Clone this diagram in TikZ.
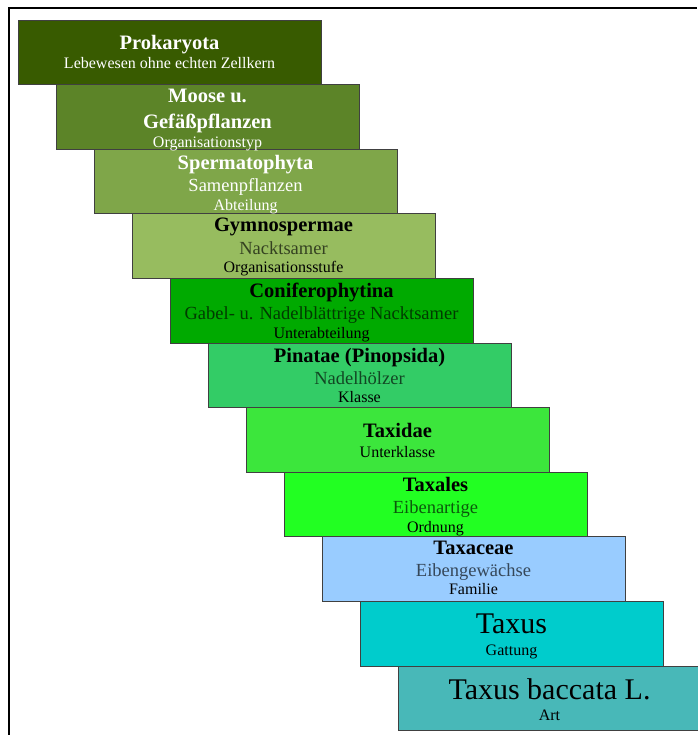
\documentclass[tikz,border=0pt]{standalone}
\usepackage{fontspec}
\setmainfont{Liberation Serif}
\usepackage{tikz}

\definecolor{stufeA}{HTML}{385B00}
\definecolor{stufeB}{HTML}{5C8428}
\definecolor{stufeC}{HTML}{7FA649}
\definecolor{stufeD}{HTML}{97BC5F}
\definecolor{stufeE}{HTML}{00AA00}
\definecolor{stufeF}{HTML}{33CC66}
\definecolor{stufeG}{HTML}{3CE63C}
\definecolor{stufeH}{HTML}{22FF22}
\definecolor{stufeI}{HTML}{99CCFF}
\definecolor{stufeJ}{HTML}{00CCCC}
\definecolor{stufeK}{HTML}{48B8B8}

\tikzset{
  stufe/.style={draw=black!75, line width=0.9pt, minimum width=303pt,
    minimum height=64.6pt, inner sep=0pt, outer sep=0pt, anchor=north west},
  titel/.style={font=\bfseries\fontsize{20.5}{24}\selectfont, anchor=base},
  deutsch/.style={font=\fontsize{18.5}{22}\selectfont, anchor=base, text opacity=.65},
  rang/.style={font=\fontsize{16}{19}\selectfont, anchor=base},
  gross/.style={font=\fontsize{30}{36}\selectfont, anchor=base},
  hell/.style={text=white, text opacity=1}
}

\begin{document}
\begin{tikzpicture}[x=1pt,y=-1pt]
\useasboundingbox (0,0) rectangle (697,735);
\fill[white] (0,0) rectangle (697,735);
% Rahmen
\draw[line width=2.5pt] (9,735) -- (9,8) -- (697,8);

% Treppe der Stufen
\node[stufe, fill=stufeA] (prokaryota) at (18,20) {};
\node[stufe, fill=stufeB] (moose) at ([xshift=38pt]prokaryota.south west) {};
\node[stufe, fill=stufeC] (spermato) at ([xshift=38pt]moose.south west) {};
\node[stufe, fill=stufeD] (gymno) at ([xshift=38pt]spermato.south west) {};
\node[stufe, fill=stufeE] (conifero) at ([xshift=38pt]gymno.south west) {};
\node[stufe, fill=stufeF] (pinatae) at ([xshift=38pt]conifero.south west) {};
\node[stufe, fill=stufeG] (taxidae) at ([xshift=38pt]pinatae.south west) {};
\node[stufe, fill=stufeH] (taxales) at ([xshift=38pt]taxidae.south west) {};
\node[stufe, fill=stufeI] (taxaceae) at ([xshift=38pt]taxales.south west) {};
\node[stufe, fill=stufeJ] (taxus) at ([xshift=38pt]taxaceae.south west) {};
\node[stufe, fill=stufeK] (baccata) at ([xshift=38pt]taxus.south west) {};

% Beschriftungen
\node[titel, hell] (prokaryota-t) at ([yshift=-30pt]prokaryota.north) {Prokaryota};
\node[rang, hell] (prokaryota-d) at ([yshift=-49pt]prokaryota.north) {Lebewesen ohne echten Zellkern};

\node[titel, hell] (moose-t) at ([yshift=-18pt]moose.north) {Moose u.};
\node[titel, hell] (moose-t2) at ([yshift=-44pt]moose.north) {Gefäßpflanzen};
\node[rang, hell] (moose-r) at ([yshift=-63pt]moose.north) {Organisationstyp};

\node[titel, hell] (spermato-t) at ([yshift=-20pt]spermato.north) {Spermatophyta};
\node[deutsch, hell] (spermato-d) at ([yshift=-42pt]spermato.north) {Samenpflanzen};
\node[rang, hell] (spermato-r) at ([yshift=-61pt]spermato.north) {Abteilung};

\node[titel] (gymno-t) at ([yshift=-18pt]gymno.north) {Gymnospermae};
\node[deutsch] (gymno-d) at ([yshift=-41pt]gymno.north) {Nacktsamer};
\node[rang] (gymno-r) at ([yshift=-59pt]gymno.north) {Organisationsstufe};

\node[titel] (conifero-t) at ([yshift=-19pt]conifero.north) {Coniferophytina};
\node[deutsch] (conifero-d) at ([yshift=-41pt]conifero.north) {Gabel- u. Nadelblättrige Nacktsamer};
\node[rang] (conifero-r) at ([yshift=-60pt]conifero.north) {Unterabteilung};

\node[titel] (pinatae-t) at ([yshift=-19pt]pinatae.north) {Pinatae (Pinopsida)};
\node[deutsch] (pinatae-d) at ([yshift=-41pt]pinatae.north) {Nadelhölzer};
\node[rang] (pinatae-r) at ([yshift=-59pt]pinatae.north) {Klasse};

\node[titel] (taxidae-t) at ([yshift=-30pt]taxidae.north) {Taxidae};
\node[rang] (taxidae-r) at ([yshift=-50pt]taxidae.north) {Unterklasse};

\node[titel] (taxales-t) at ([yshift=-19pt]taxales.north) {Taxales};
\node[deutsch] (taxales-d) at ([yshift=-41pt]taxales.north) {Eibenartige};
\node[rang] (taxales-r) at ([yshift=-60pt]taxales.north) {Ordnung};

\node[titel] (taxaceae-t) at ([yshift=-18pt]taxaceae.north) {Taxaceae};
\node[deutsch] (taxaceae-d) at ([yshift=-40pt]taxaceae.north) {Eibengewächse};
\node[rang] (taxaceae-r) at ([yshift=-58pt]taxaceae.north) {Familie};

\node[gross] (taxus-t) at ([yshift=-32pt]taxus.north) {Taxus};
\node[rang] (taxus-r) at ([yshift=-54pt]taxus.north) {Gattung};

\node[gross] (baccata-t) at ([yshift=-33pt]baccata.north) {Taxus baccata L.};
\node[rang] (baccata-r) at ([yshift=-54pt]baccata.north) {Art};
\end{tikzpicture}
\end{document}
